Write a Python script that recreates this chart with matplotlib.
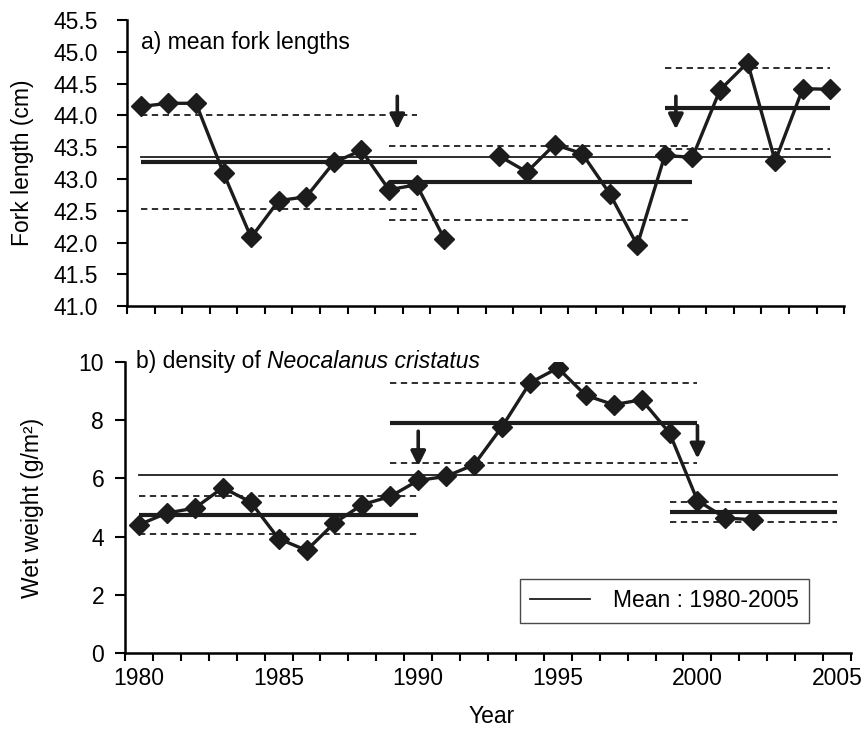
import numpy as np
import matplotlib
matplotlib.use('Agg')
import matplotlib.pyplot as plt
from matplotlib.ticker import FixedLocator

plt.rcParams['font.family'] = ['Liberation Sans', 'DejaVu Sans']
plt.rcParams['font.size'] = 16.5

years = np.arange(1980, 2006)

# a) mean fork lengths (cm), NaN = no data
fork = [44.14, 44.19, 44.19, 43.09, 42.08, 42.66, 42.72, 43.26, 43.45, 42.83,
        42.91, 42.06, np.nan, 43.36, 43.11, 43.54, 43.40, 42.77, 41.96, 43.37,
        43.34, 44.40, 44.83, 43.28, 44.42, 44.41]
fork_mean = 43.35
# regimes: (start, end, mean, upper, lower)
fork_regimes = [(1980, 1990, 43.26, 44.00, 42.53),
                (1989, 2000, 42.95, 43.52, 42.36),
                (1999, 2005, 44.11, 44.75, 43.47)]
fork_arrows = [(1989.3, 44.30, 43.78), (1999.4, 44.30, 43.78)]

# b) density of Neocalanus cristatus (g/m2)
dens = [4.41, 4.81, 4.98, 5.68, 5.19, 3.93, 3.53, 4.47, 5.10, 5.38,
        5.93, 6.07, 6.47, 7.77, 9.28, 9.79, 8.85, 8.53, 8.70, 7.56,
        5.24, 4.64, 4.58, np.nan, np.nan, np.nan]
dens_mean = 6.12
dens_regimes = [(1980, 1990, 4.75, 5.40, 4.08),
                (1989, 2000, 7.90, 9.28, 6.53),
                (1999, 2005, 4.83, 5.18, 4.49)]
dens_arrows = [(1990, 7.62, 6.42), (2000, 7.81, 6.68)]

ink = '#1c1c1c'

fig = plt.figure(figsize=(8.64, 7.29), dpi=100)
ax1 = fig.add_axes([0.147, 0.580, 0.830, 0.3926])
ax2 = fig.add_axes([0.1447, 0.104, 0.8403, 0.3996])


def draw_panel(ax, values, mean, regimes, arrows):
    ax.plot([1980, 2005], [mean, mean], color=ink, lw=1.3,
            label='Mean : 1980-2005', zorder=2)
    for start, end, m, up, lo in regimes:
        ax.plot([start, end], [m, m], color=ink, lw=3.0, solid_capstyle='butt', zorder=2)
        ax.plot([start, end], [up, up], color=ink, lw=1.3, ls=(0, (3.5, 2.5)), zorder=2)
        ax.plot([start, end], [lo, lo], color=ink, lw=1.3, ls=(0, (3.5, 2.5)), zorder=2)
    ax.plot(years, values, color=ink, lw=2.4, marker='D', markersize=10.5, zorder=3)
    for x, y0, y1 in arrows:
        ax.annotate('', xy=(x, y1), xytext=(x, y0),
                    arrowprops=dict(arrowstyle='-|>', color=ink, lw=2.6,
                                    mutation_scale=22, shrinkA=0, shrinkB=0))
    ax.set_xlim(1979.5, 2005.5)
    ax.spines['top'].set_visible(False)
    ax.spines['right'].set_visible(False)
    ax.spines['left'].set_linewidth(1.8)
    ax.spines['bottom'].set_linewidth(1.8)
    ax.xaxis.set_minor_locator(FixedLocator(np.arange(1979.5, 2006, 1)))
    ax.tick_params(axis='x', which='minor', length=6, width=1.5, direction='out')
    ax.tick_params(axis='x', which='major', length=0, pad=10)
    ax.tick_params(axis='y', length=7, width=1.5, direction='out')


draw_panel(ax1, fork, fork_mean, fork_regimes, fork_arrows)
ax1.set_ylim(41.0, 45.5)
ax1.set_yticks(np.arange(41.0, 45.51, 0.5))
ax1.set_yticklabels([f'{v:.1f}' for v in np.arange(41.0, 45.51, 0.5)])
ax1.tick_params(axis='y', pad=14)
ax1.set_xticks([])
ax1.set_ylabel('Fork length (cm)')
ax1.yaxis.set_label_coords(-0.130, 0.5)
ax1.text(1980, 45.14, 'a) mean fork lengths', ha='left', va='center')

draw_panel(ax2, dens, dens_mean, dens_regimes, dens_arrows)
ax2.set_ylim(0, 10)
ax2.set_yticks(np.arange(0, 11, 2))
ax2.tick_params(axis='y', pad=8)
ax2.set_xticks(np.arange(1980, 2006, 5))
ax2.set_ylabel('Wet weight (g/m²)')
ax2.yaxis.set_label_coords(-0.112, 0.5)
ax2.set_xlabel('Year')
ax2.xaxis.set_label_coords(0.5055, -0.178)
t = ax2.text(1979.9, 10.03, 'b) density of ', ha='left', va='center')
ax2.annotate('Neocalanus cristatus', xy=(1, 0.5), xycoords=t,
             ha='left', va='center', style='italic')

leg = ax2.legend(loc='center', bbox_to_anchor=(0.743, 0.180), frameon=True,
                 fancybox=False, edgecolor=ink, handlelength=2.6,
                 handletextpad=1.0, borderpad=0.45, borderaxespad=0)
leg.get_frame().set_linewidth(1.0)

fig.savefig('out.png', dpi=100)
